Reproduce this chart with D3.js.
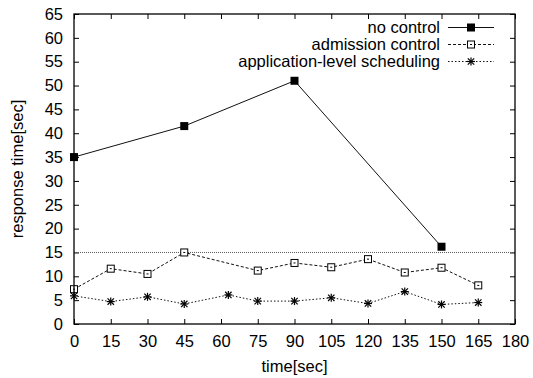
<!DOCTYPE html>
<html>
<head>
<meta charset="utf-8">
<script src="https://cdn.jsdelivr.net/npm/d3@7"></script>
<style>
  body { margin: 0; background: #fff; }
  text { font-family: "Liberation Sans", Arial, sans-serif; fill: #000; }
</style>
</head>
<body>
<div class="chart"></div>
<script>
// data
var noControlTime = [0, 45, 90, 150];
var noControlResp = [35, 41.5, 51, 16.2];

var admissionTime = [0, 15, 30, 45, 75, 90, 105, 120, 135, 150, 165];
var admissionResp = [7.3, 11.6, 10.5, 15.0, 11.2, 12.8, 11.9, 13.6, 10.8, 11.8, 8.1];

var schedTime = [0, 15, 30, 45, 63, 75, 90, 105, 120, 135, 150, 165];
var schedResp = [5.9, 4.7, 5.7, 4.2, 6.1, 4.8, 4.8, 5.5, 4.3, 6.8, 4.1, 4.5];

var thresholdValue = 15;

var xTicks = d3.range(0, 181, 15);
var yTicks = d3.range(0, 66, 5);
var seriesNames = ["no control", "admission control", "application-level scheduling"];

//svg and margins
var svgWidth = 533;
var svgHeight = 378;
var margin = { top: 14, right: 18, bottom: 54, left: 74 };
var chartWidth = svgWidth - margin.left - margin.right;
var chartHeight = svgHeight - margin.top - margin.bottom;
var fontSize = "16.5px";

var svg = d3.select(".chart").append("svg")
  .attr("width", svgWidth)
  .attr("height", svgHeight);

var chartGroup = svg.append("g")
  .attr("transform", `translate(${margin.left}, ${margin.top})`);

var x = d3.scaleLinear().domain([0, 180]).range([0, chartWidth]);
var y = d3.scaleLinear().domain([0, 65]).range([chartHeight, 0]);

// axes: gnuplot style, ticks pointing inward, mirrored
var tickLen = 5;
chartGroup.append("g")
  .attr("transform", `translate(0, ${chartHeight})`)
  .call(d3.axisBottom(x).tickValues(xTicks).tickSize(-tickLen).tickPadding(11))
  .call(g => g.select(".domain").remove());
chartGroup.append("g")
  .call(d3.axisTop(x).tickValues(xTicks).tickSize(-tickLen).tickFormat(""))
  .call(g => g.select(".domain").remove());
chartGroup.append("g")
  .call(d3.axisLeft(y).tickValues(yTicks).tickSize(-tickLen).tickPadding(11))
  .call(g => g.select(".domain").remove());
chartGroup.append("g")
  .attr("transform", `translate(${chartWidth}, 0)`)
  .call(d3.axisRight(y).tickValues(yTicks).tickSize(-tickLen).tickFormat(""))
  .call(g => g.select(".domain").remove());

chartGroup.selectAll(".tick text")
  .style("font-size", fontSize)
  .style("font-family", "Liberation Sans, Arial, sans-serif");
chartGroup.selectAll(".tick line").attr("stroke", "#000");

// threshold line
chartGroup.append("line")
  .attr("x1", 0).attr("x2", chartWidth)
  .attr("y1", y(thresholdValue)).attr("y2", y(thresholdValue))
  .attr("stroke", "#555")
  .attr("stroke-width", 1)
  .attr("stroke-dasharray", "1,1");

// lines
var line = d3.line().x(d => x(d[0])).y(d => y(d[1]));

var noControl = noControlTime.map((t, i) => [t, noControlResp[i]]);
var admission = admissionTime.map((t, i) => [t, admissionResp[i]]);
var sched = schedTime.map((t, i) => [t, schedResp[i]]);

chartGroup.append("path").datum(noControl)
  .attr("d", line).attr("fill", "none").attr("stroke", "#111").attr("stroke-width", 1);
chartGroup.append("path").datum(admission)
  .attr("d", line).attr("fill", "none").attr("stroke", "#111").attr("stroke-width", 1)
  .attr("stroke-dasharray", "3,2");
chartGroup.append("path").datum(sched)
  .attr("d", line).attr("fill", "none").attr("stroke", "#111").attr("stroke-width", 1)
  .attr("stroke-dasharray", "1.5,2");

// markers
function filledSquare(g, cx, cy) {
  g.append("rect").attr("x", cx - 4).attr("y", cy - 4).attr("width", 8).attr("height", 8)
    .attr("fill", "#000");
}
function openSquare(g, cx, cy) {
  g.append("rect").attr("x", cx - 3.5).attr("y", cy - 3.5).attr("width", 7).attr("height", 7)
    .attr("fill", "#fff").attr("stroke", "#000").attr("stroke-width", 1);
  g.append("line").attr("x1", cx - 1).attr("x2", cx + 1).attr("y1", cy).attr("y2", cy)
    .attr("stroke", "#000");
}
function asterisk(g, cx, cy) {
  var r = 4, k = 0.8;
  [[-r, 0, r, 0], [0, -r, 0, r], [-r * k, -r * k, r * k, r * k], [-r * k, r * k, r * k, -r * k]].forEach(function (s) {
    g.append("line")
      .attr("x1", cx + s[0]).attr("y1", cy + s[1])
      .attr("x2", cx + s[2]).attr("y2", cy + s[3])
      .attr("stroke", "#000").attr("stroke-width", 1.2);
  });
}

var markerGroup = chartGroup.append("g");
noControl.forEach(d => filledSquare(markerGroup, x(d[0]), y(d[1])));
admission.forEach(d => openSquare(markerGroup, x(d[0]), y(d[1])));
sched.forEach(d => asterisk(markerGroup, x(d[0]), y(d[1])));

// frame
chartGroup.append("rect")
  .attr("width", chartWidth).attr("height", chartHeight)
  .attr("fill", "none").attr("stroke", "#000").attr("stroke-width", 1.3);

// legend
var legendRows = [27.5, 44.5, 61.5];
var dashes = [null, "3,2", "1.5,2"];
var markers = [filledSquare, openSquare, asterisk];
var legend = svg.append("g");
seriesNames.forEach(function (name, i) {
  var ly = legendRows[i];
  legend.append("text")
    .attr("x", 440).attr("y", ly).attr("dy", "0.35em")
    .attr("text-anchor", "end")
    .style("font-size", fontSize)
    .text(name);
  legend.append("line")
    .attr("x1", 448).attr("x2", 494).attr("y1", ly).attr("y2", ly)
    .attr("stroke", "#111").attr("stroke-width", 1)
    .attr("stroke-dasharray", dashes[i]);
  markers[i](legend, 471, ly);
});

// axis labels
svg.append("text")
  .attr("x", margin.left + chartWidth / 2).attr("y", 366)
  .attr("text-anchor", "middle").attr("dy", "0.35em")
  .style("font-size", fontSize)
  .text("time[sec]");

svg.append("text")
  .attr("transform", `translate(17, ${margin.top + chartHeight / 2}) rotate(-90)`)
  .attr("text-anchor", "middle").attr("dy", "0.35em")
  .style("font-size", fontSize)
  .text("response time[sec]");
</script>
</body>
</html>
